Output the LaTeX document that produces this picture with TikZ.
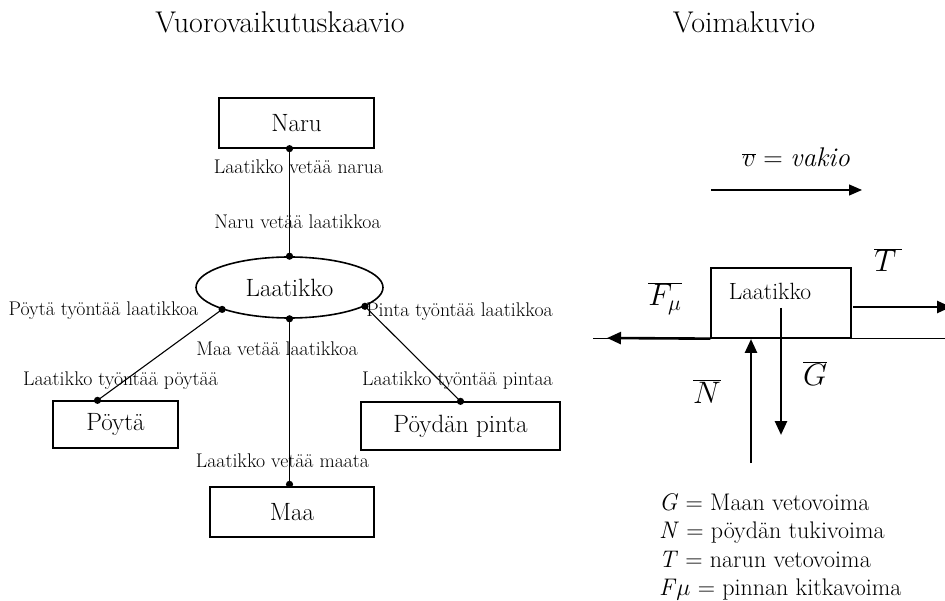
\RequirePackage{fix-cm}
\documentclass[tikz,border=0pt]{standalone}
\usepackage{fontspec}
\usepackage{graphicx}
\usetikzlibrary{shapes.geometric,arrows.meta}
\newcommand{\fvec}[1]{\scalebox{1.15}{$\overline{#1}$}}
\begin{document}
\begin{tikzpicture}[x=1pt,y=-1pt,
  title/.style={font=\fontsize{30}{34}\selectfont, inner sep=0pt, anchor=base},
  lbl/.style={font=\fontsize{19.8}{23}\selectfont, inner sep=0pt, anchor=base},
  bigtxt/.style={font=\fontsize{25}{29}\selectfont},
  box/.style={draw, line width=1.3pt, bigtxt, inner sep=0pt},
  conn/.style={line width=1.1pt},
  dot/.style={fill=black},
  force/.style={line width=2.6pt, -{Triangle[length=14pt,width=12pt]}},
  mlbl/.style={font=\fontsize{27}{31}\selectfont, inner sep=0pt, anchor=base},
  flbl/.style={font=\fontsize{27}{31}\selectfont, inner sep=0pt, anchor=base},
  legend/.style={font=\fontsize{24}{28}\selectfont, inner sep=0pt, anchor=base west}]
\useasboundingbox (0,0) rectangle (945,601);
\clip (0,0) rectangle (945,601);

% titles
\node[title] (t1) at (280,33) {Vuorovaikutuskaavio};
\node[title] (t2) at (744,33) {Voimakuvio};

% interaction diagram
\node[box, minimum width=155pt, minimum height=50pt] (naru) at (296.5,123) {Naru};
\node[draw, ellipse, line width=1.6pt, bigtxt, inner sep=0pt,
      minimum width=187pt, minimum height=61pt] (ell) at (289.5,287.5) {Laatikko};
\node[box, minimum width=125pt, minimum height=47pt] (poyta) at (115.5,424.5) {Pöytä};
\node[box, minimum width=164pt, minimum height=50pt] (maa) at (292,512) {Maa};
\node[box, minimum width=199pt, minimum height=48pt] (pinta) at (460.5,426) {Pöydän pinta};

\coordinate (nA) at (naru.south -| ell.north);
\coordinate (eN) at (ell.north);
\coordinate (eL) at (ell.198);
\coordinate (eR) at (ell.346);
\coordinate (eS) at (ell.south);
\coordinate (pA) at ([xshift=-18pt]poyta.north);
\coordinate (mA) at ([yshift=2pt]maa.north -| ell.south);
\coordinate (qA) at (pinta.north);

\draw[conn] (nA) -- (eN);
\draw[conn] (eL) -- (pA);
\draw[conn] (eS) -- (mA);
\draw[conn] (eR) -- (qA);
\foreach \p in {nA,eN,eL,eR,eS,pA,mA,qA} \fill[dot] (\p) circle (3.6);

\node[lbl] (l1) at (298.5,174) {Laatikko vetää narua};
\node[lbl] (l2) at (297.5,229) {Naru vetää laatikkoa};
\node[lbl] (l3) at (103.5,316) {Pöytä työntää laatikkoa};
\node[lbl] (l4) at (459.5,317) {Pinta työntää laatikkoa};
\node[lbl] (l5) at (277,356) {Maa vetää laatikkoa};
\node[lbl] (l6) at (120.5,386) {Laatikko työntää pöytää};
\node[lbl] (l7) at (457.5,385) {Laatikko työntää pintaa};
\node[lbl] (l8) at (282.5,467) {Laatikko vetää maata};

% force diagram
\node[mlbl] (vlbl) at (796,167) {$\overline{v} = \mathit{vakio}$};
\coordinate (vA) at (711,190);
\coordinate (vB) at (862,190);
\draw[line width=1.2pt, -{Triangle[length=13pt,width=11pt]}] (vA) -- (vB);

\node[draw, line width=1.3pt, minimum width=140pt, minimum height=70pt, inner sep=0pt] (blk) at (781,303) {};
\node[font=\fontsize{23.5}{27}\selectfont, inner sep=0pt, anchor=base] (blktxt) at (770,300) {Laatikko};

\coordinate (gL) at (593,338);
\coordinate (gR) at (945,338);
\draw[line width=0.9pt] (gL) -- (gR);

\coordinate (fEnd) at (607,338);
\draw[force] (blk.south west) -- (fEnd);
\coordinate (tS) at (853,307);
\coordinate (tE) at (951,307);
\draw[force] (tS) -- (tE);
\coordinate (gS) at (781,308);
\coordinate (gE) at (781,435);
\draw[force] (gS) -- (gE);
\coordinate (nS) at (751,463);
\coordinate (nE) at (751,339);
\draw[force] (nS) -- (nE);

\node[flbl] (fl) at (665,306) {\fvec{F_\mu}};
\node[flbl] (tl) at (888,272) {\fvec{T\,}};
\node[flbl] (gl) at (815,385) {\fvec{G}};
\node[flbl] (nl) at (707,403) {\fvec{N}};

% legend
\node[legend] (lg1) at (659,510) {\textit{G} = Maan vetovoima};
\node[legend] (lg2) at (659,538) {\textit{N} = pöydän tukivoima};
\node[legend] (lg3) at (659,567) {\textit{T} = narun vetovoima};
\node[legend] (lg4) at (659,595) {\textit{F}$\mu$ = pinnan kitkavoima};
\end{tikzpicture}
\end{document}
